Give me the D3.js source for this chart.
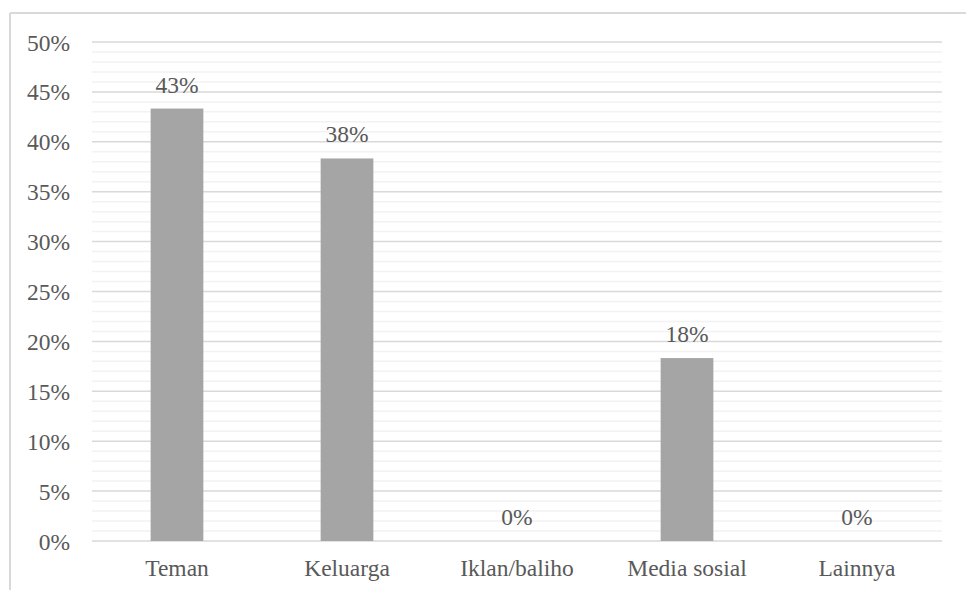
<!DOCTYPE html>
<html>
<head>
<meta charset="utf-8">
<script src="https://cdn.jsdelivr.net/npm/d3@7"></script>
<style>
  html, body { margin: 0; padding: 0; background: #fff; }
  svg { display: block; }
  svg text { font-family: "Liberation Serif"; }
</style>
</head>
<body>
<svg id="chart" width="966" height="590"></svg>
<script>
const categories = ["Teman", "Keluarga", "Iklan/baliho", "Media sosial", "Lainnya"];
const values = [43.33, 38.33, 0, 18.33, 0];
const valueLabels = ["43%", "38%", "0%", "18%", "0%"];
const majorTicks = [0, 5, 10, 15, 20, 25, 30, 35, 40, 45, 50];
const minorTicks = d3.range(0, 51, 1).filter(v => v % 5 !== 0);

const FONT = "Liberation Serif";
const FS = 23.5;
const TXT = "#595959";

const svg = d3.select("#chart");
const W = 966, H = 590;
const plot = { left: 92, right: 942, top: 42, bottom: 541 };

// chart frame
svg.append("line").attr("x1", 10).attr("x2", W).attr("y1", 13).attr("y2", 13)
  .attr("stroke", "#d9d9d9").attr("stroke-width", 2);
svg.append("line").attr("x1", 10).attr("x2", 10).attr("y1", 13).attr("y2", H)
  .attr("stroke", "#d9d9d9").attr("stroke-width", 2);

const x = d3.scaleBand().domain(categories).range([plot.left, plot.right]).paddingInner(0.69).paddingOuter(0.345);
const y = d3.scaleLinear().domain([0, 50]).range([plot.bottom, plot.top]);

// minor gridlines
svg.append("g").selectAll("line").data(minorTicks).join("line")
  .attr("x1", plot.left).attr("x2", plot.right)
  .attr("y1", d => y(d)).attr("y2", d => y(d))
  .attr("stroke", "#f2f2f2").attr("stroke-width", 1.5);
// major gridlines
svg.append("g").selectAll("line").data(majorTicks).join("line")
  .attr("x1", plot.left).attr("x2", plot.right)
  .attr("y1", d => y(d)).attr("y2", d => y(d))
  .attr("stroke", "#d9d9d9").attr("stroke-width", 1.5);

// y axis labels
const yAxis = d3.axisLeft(y).tickValues(majorTicks).tickFormat(d => d + "%").tickSize(0).tickPadding(0);
const yg = svg.append("g").attr("transform", `translate(70,0)`).call(yAxis)
  .attr("font-family", FONT).attr("font-size", FS);
yg.select(".domain").remove();
yg.selectAll("text").attr("fill", TXT).attr("dy", "0.34em");

// bars
svg.append("g").selectAll("rect").data(categories).join("rect")
  .attr("x", d => x(d)).attr("width", x.bandwidth())
  .attr("y", (d, i) => y(values[i])).attr("height", (d, i) => y(0) - y(values[i]))
  .attr("fill", "#a5a5a5");

// value labels
svg.append("g").attr("font-family", FONT).attr("font-size", FS)
  .selectAll("text").data(categories).join("text")
  .attr("x", d => x(d) + x.bandwidth() / 2)
  .attr("y", (d, i) => y(values[i]) - 16)
  .attr("text-anchor", "middle").attr("fill", TXT)
  .text((d, i) => valueLabels[i]);

// x axis labels
const xAxis = d3.axisBottom(x).tickSize(0).tickPadding(0);
const xg = svg.append("g").attr("transform", `translate(0,${plot.bottom})`).call(xAxis)
  .attr("font-family", FONT).attr("font-size", FS);
xg.select(".domain").remove();
xg.selectAll("text").attr("fill", TXT).attr("dy", "1.47em");
</script>
</body>
</html>
